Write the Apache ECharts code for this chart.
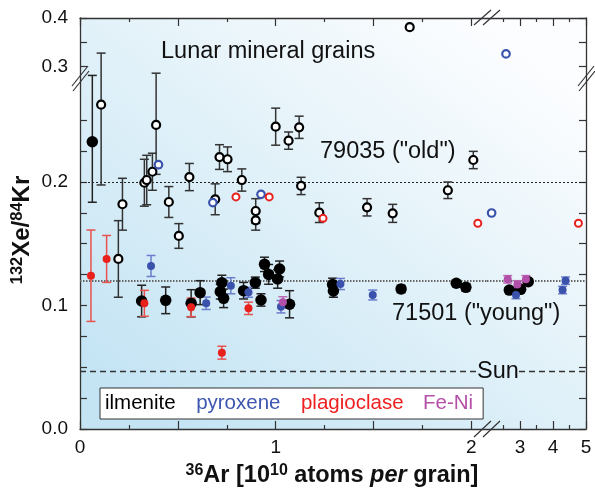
<!DOCTYPE html>
<html><head><meta charset="utf-8">
<script src="https://cdn.jsdelivr.net/npm/echarts@6/dist/echarts.min.js"></script>
<style>html,body{margin:0;padding:0;background:#fff}#c{width:595px;height:489px}</style>
</head><body><div id="c"></div>
<script>
// rows: [36Ar (1e10 atoms per grain), 132Xe/84Kr, error]
const ilmenite79035 = [
  [0.108,0.2626,0.065],[0.389,0.2462,0.040],[0.329,0.1994,0.019],[0.341,0.2016,0.020],
  [0.370,0.2083,0.015],[0.217,0.182,0.021],[0.196,0.1377,0.031],[0.454,0.1838,0.0125],
  [0.505,0.1563,0.010],[0.559,0.204,0.011],[0.691,0.186,0.0125],[0.713,0.2202,0.010],
  [0.754,0.2184,0.010],[0.827,0.2016,0.009],[0.898,0.1765,0.010],[0.898,0.169,0.008],
  [1.0,0.2448,0.015],[1.066,0.2335,0.007],[1.12,0.2443,0.009],[1.13,0.1968,0.007],
  [1.223,0.1752,0.008],[1.467,0.1795,0.007],[1.598,0.1746,0.0073],[1.88,0.1933,0.0067],
  [2.01,0.2178,0.007],[1.685,0.381,0]
];
const ilmenite71501 = [
  [0.063,0.2326,0.049],[0.315,0.1036,0.0128],[0.438,0.1042,0.0108],[0.568,0.1018,0.011],
  [0.614,0.1104,0.0097],[0.725,0.1185,0.006],[0.717,0.1112,0.006],[0.734,0.1058,0.0075],
  [0.836,0.112,0.0067],[0.896,0.1185,0.0045],[0.925,0.1045,0.005],[0.943,0.1333,0.0058],
  [0.964,0.1252,0.008],[1.02,0.1296,0.0064],[1.01,0.1215,0.0075],[1.071,0.101,0.011],
  [1.291,0.1171,0.005],[1.295,0.1117,0.005],[1.641,0.1134,0.003],[1.923,0.118,0.002],
  [1.972,0.1147,0.003],[2.676,0.1125,0.002],[3.02,0.1131,0.002],[3.25,0.1193,0.002]
];
const pyroxene79035 = [[0.401,0.214,0],[0.679,0.1833,0],[0.925,0.190,0],[2.14,0.1749,0],[2.576,0.326,0]];
const pyroxene71501 = [
  [0.363,0.132,0.0085],[0.645,0.1018,0.005],[0.771,0.116,0.0065],[0.861,0.1107,0.004],
  [1.027,0.099,0.005],[1.331,0.1174,0.0045],[1.496,0.1085,0.004],[2.879,0.1085,0.003],
  [4.29,0.1125,0.003],[4.38,0.1201,0.003]
];
const plagioclase79035 = [[0.797,0.1879,0],[0.967,0.1879,0],[1.242,0.1706,0],[2.033,0.1666,0],[4.77,0.1666,0]];
const plagioclase71501 = [
  [0.056,0.1241,0.037],[0.136,0.1377,0.019],[0.329,0.1018,0.0105],[0.568,0.0985,0.0075],
  [0.725,0.0618,0.0052],[0.861,0.0977,0.005]
];
const feNi71501 = [[1.037,0.1026,0.0045],[2.627,0.1212,0.003],[2.92,0.1171,0.003],[3.18,0.1212,0.003]];

const ratio79035 = 0.2, ratio71501 = 0.115, ratioSun = 0.0464;

const xLeftMajor = [0,0.5,1,1.5,2], xLeftMinor = [0.25,0.75,1.25,1.75], xLeftLabels = [0,1,2];
const xRightMajor = [3,4,5], xRightMinor = [2.5,3.5,4.5], xRightLabels = [3,4,5];
const yLowTicks = [0,0.025,0.05,0.075,0.1,0.125,0.15,0.175,0.2,0.225,0.25], yLowLabels = [0,0.1,0.2];
const yHighTicks = [0.3,0.35,0.4], yHighLabels = [0.3,0.4];

const FONT = '"Liberation Sans", Arial, Helvetica, sans-serif';
const AX = '#333';

const bg = {type:'linear', x:170, y:429, x2:480, y2:18, global:true,
  colorStops:[{offset:0,color:'#c4e4f4'},{offset:0.55,color:'#e3f2f9'},{offset:1,color:'#fcfdff'}]};

const grids = [
  {side:'L', row:'low',  left:80,  top:83, width:407, height:346, x:[0,2.08], y:[0,0.28016]},
  {side:'R', row:'low',  left:487, top:83, width:99,  height:346, x:[2,5],    y:[0,0.28016]},
  {side:'L', row:'high', left:80,  top:18, width:407, height:65,  x:[0,2.08], y:[0.26598,0.4]},
  {side:'R', row:'high', left:487, top:18, width:99,  height:65,  x:[2,5],    y:[0.26598,0.4]}
];

const xAxes = [], yAxes = [];
grids.forEach((g,i)=>{
  const pos = g.row==='low' ? 'bottom' : 'top';
  const maj = g.side==='L' ? xLeftMajor : xRightMajor;
  const min = g.side==='L' ? xLeftMinor : xRightMinor;
  const lab = g.side==='L' ? xLeftLabels : xRightLabels;
  xAxes.push({gridIndex:i, type:'value', min:g.x[0], max:g.x[1], position:pos,
    axisLine:{show:true,onZero:false,lineStyle:{color:AX,width:1.3}},
    axisTick:{show:true,inside:true,length:8,customValues:maj,lineStyle:{color:AX,width:1.2}},
    axisLabel:{show:g.row==='low',customValues:lab,formatter:v=>String(v),fontSize:19,color:'#111',fontFamily:FONT,margin:9},
    splitLine:{show:false}});
  xAxes.push({gridIndex:i, type:'value', min:g.x[0], max:g.x[1], position:pos,
    axisLine:{show:false,onZero:false},
    axisTick:{show:true,inside:true,length:4,customValues:min,lineStyle:{color:AX,width:1.2}},
    axisLabel:{show:false}, splitLine:{show:false}});
  yAxes.push({gridIndex:i, type:'value', min:g.y[0], max:g.y[1], position:g.side==='L'?'left':'right',
    axisLine:{show:true,onZero:false,lineStyle:{color:AX,width:1.3}},
    axisTick:{show:true,inside:true,length:7,customValues:g.row==='low'?yLowTicks:yHighTicks,lineStyle:{color:AX,width:1.2}},
    axisLabel:{show:g.side==='L',customValues:g.row==='low'?yLowLabels:yHighLabels,formatter:v=>v.toFixed(1),fontSize:19,color:'#111',fontFamily:FONT,margin:12},
    splitLine:{show:false}});
});

const groups = [
  {name:'ilmenite', rows:ilmenite79035, open:true,  color:'#000', err:'#333', size:8, bw:2.2},
  {name:'ilmenite', rows:ilmenite71501, open:false, color:'#000', err:'#222', size:11.5},
  {name:'pyroxene', rows:pyroxene79035, open:true,  color:'#3a52ab', size:7.5, bw:2.2},
  {name:'pyroxene', rows:pyroxene71501, open:false, color:'#3a52ab', err:'#6a7ecb', size:8},
  {name:'plagioclase', rows:plagioclase79035, open:true, color:'#e8211d', size:7, bw:2},
  {name:'plagioclase', rows:plagioclase71501, open:false, color:'#e8211d', err:'#e8524e', size:8},
  {name:'Fe-Ni', rows:feNi71501, open:false, color:'#b24fa9', err:'#bb6ab4', size:8}
];

function inX(g,x){ return g.side==='L' ? x < 2.08 : x >= 2.08; }
function inY(g,y){ return y >= g.y[0] && y <= g.y[1]; }

function errRenderer(color){
  return function(params, api){
    const x = api.value(0), lo = api.value(1), hi = api.value(2);
    const a = api.coord([x, lo]), b = api.coord([x, hi]);
    const w = 4.5;
    const st = {stroke:color, lineWidth:1.5, fill:null};
    return {type:'group', children:[
      {type:'line', shape:{x1:a[0],y1:a[1],x2:b[0],y2:b[1]}, style:st},
      {type:'line', shape:{x1:b[0]-w,y1:b[1],x2:b[0]+w,y2:b[1]}, style:st},
      {type:'line', shape:{x1:a[0]-w,y1:a[1],x2:a[0]+w,y2:a[1]}, style:st}
    ]};
  };
}

const series = [];
grids.forEach((g,i)=>{
  groups.forEach((grp,k)=>{
    const errs = grp.rows.filter(r=>r[2]>0 && inX(g,r[0]) && (r[1]+r[2]) >= g.y[0] && (r[1]-r[2]) <= g.y[1])
                         .map(r=>[r[0], r[1]-r[2], r[1]+r[2]]);
    if (errs.length) series.push({type:'custom', name:grp.name, xAxisIndex:2*i, yAxisIndex:i,
      clip:true, silent:true, data:errs, encode:{x:0,y:[1,2]}, renderItem:errRenderer(grp.err||grp.color), z:2});
    const pts = grp.rows.filter(r=>inX(g,r[0]) && inY(g,r[1])).map(r=>[r[0],r[1]]);
    const s = {type:'scatter', name:grp.name, xAxisIndex:2*i, yAxisIndex:i, data:pts, z:2, silent:true,
      symbol:'circle', symbolSize:grp.size,
      itemStyle: grp.open ? {color:'#fff', borderColor:grp.color, borderWidth:grp.bw, opacity:1}
                          : {color:grp.color, borderWidth:0, opacity:1}};
    if (k===1 && g.row==='low') {
      const ml = [
        {yAxis:ratio79035, lineStyle:{color:'#222', type:[2,2], width:1}},
        {yAxis:ratio71501, lineStyle:{color:'#666', type:[1.5,1.5], width:1.8}}
      ];
      if (g.side==='L') ml.push([{coord:[0,ratioSun], lineStyle:{color:'#333',type:[6,4],width:1.3}},{coord:[2.03,ratioSun]}]);
      else ml.push([{coord:[2.97,ratioSun], lineStyle:{color:'#333',type:[6,4],width:1.3}},{coord:[5,ratioSun]}]);
      s.markLine = {silent:true, symbol:['none','none'], label:{show:false}, animation:false, data:ml, z:1};
    }
    if (pts.length || s.markLine) series.push(s);
  });
});

function brk(x1,y1,x2,y2,dx,dy){
  return [
    {type:'line', shape:{x1:x1,y1:y1,x2:x2,y2:y2}, style:{stroke:AX,lineWidth:1.2}, z:100},
    {type:'line', shape:{x1:x1+dx,y1:y1+dy,x2:x2+dx,y2:y2+dy}, style:{stroke:AX,lineWidth:1.2}, z:100}
  ];
}

const txt = (t,x,y,align,extra) => Object.assign({type:'text', x:x, y:y, z:100, silent:true,
  style:{text:t, fill:'#111', font:'23.5px '+FONT, align:align||'left', verticalAlign:'middle'}}, extra||{});

const graphic = [].concat(
  brk(72,86,88,66,1,5),
  brk(578,86,594,66,1,5),
  brk(474,25,491,10,9,0),
  brk(474,437,491,421,9,0),
  [
    txt('Lunar mineral grains',161,52),
    txt('79035 ("old")',320,151.5),
    txt('71501 ("young")',392,313.5),
    txt('Sun',498,371.5,'center'),
    {type:'text', x:332, y:476, z:100, silent:true, style:{
      text:'{sup|36}{b|Ar [10}{sup|10}{b| atoms }{it|per}{b| grain]}', align:'center', verticalAlign:'middle', fill:'#111',
      rich:{
        b:{fontSize:23.5, fontWeight:'bold', fontFamily:FONT, lineHeight:26, fill:'#111'},
        it:{fontSize:23.5, fontWeight:'bold', fontStyle:'italic', fontFamily:FONT, lineHeight:26, fill:'#111'},
        sup:{fontSize:16, fontWeight:'bold', fontFamily:FONT, lineHeight:16, verticalAlign:'top', fill:'#111'}
      }}},
    {type:'text', x:22, y:230, rotation:Math.PI/2, z:100, silent:true, style:{
      text:'{sup|132}{b|Xe/}{sup|84}{b|Kr}', align:'center', verticalAlign:'middle', fill:'#111',
      rich:{
        b:{fontSize:24, fontWeight:'bold', fontFamily:FONT, lineHeight:26, fill:'#111'},
        sup:{fontSize:16.5, fontWeight:'bold', fontFamily:FONT, lineHeight:16, verticalAlign:'top', fill:'#111'}
      }}}
  ]
);

const chart = echarts.init(document.getElementById('c'), null, {renderer:'canvas'});
chart.setOption({
  animation:false,
  backgroundColor:'#fff',
  grid: grids.map(g=>({left:g.left, top:g.top, width:g.width, height:g.height, show:true, backgroundColor:bg, borderWidth:0, containLabel:false})),
  xAxis:xAxes, yAxis:yAxes,
  legend:{left:100, top:388, orient:'horizontal', selectedMode:false, itemWidth:0, itemHeight:0, itemGap:14.5,
    padding:[5,10,5,0], backgroundColor:'#fff', borderColor:'#333', borderWidth:1, borderRadius:0,
    textStyle:{fontSize:20.5, fontFamily:FONT},
    data:[{name:'ilmenite',textStyle:{color:'#000'}},{name:'pyroxene',textStyle:{color:'#3d56b0'}},
          {name:'plagioclase',textStyle:{color:'#ee2020'}},{name:'Fe-Ni',textStyle:{color:'#b54fa7'}}]},
  graphic:graphic,
  series:series
});
</script></body></html>
